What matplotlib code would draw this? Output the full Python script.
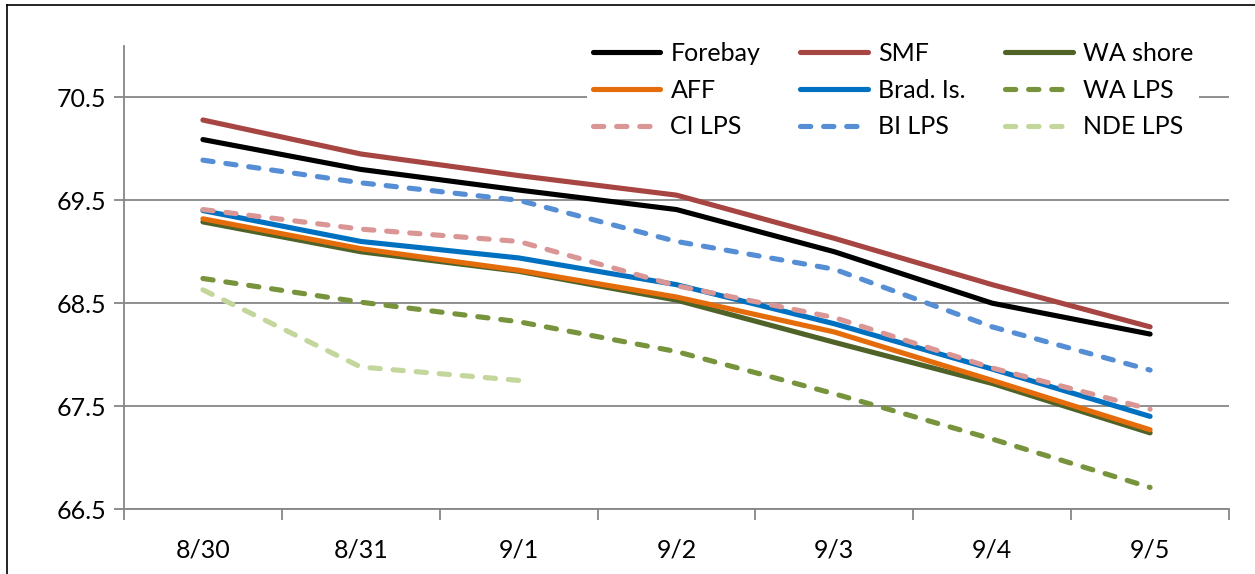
import numpy as np
import matplotlib
matplotlib.use('Agg')
import matplotlib.pyplot as plt
from matplotlib.lines import Line2D

plt.rcParams['font.family'] = ['Lato', 'DejaVu Sans']

dates = ['8/30', '8/31', '9/1', '9/2', '9/3', '9/4', '9/5']

forebay = [70.09, 69.80, 69.60, 69.41, 69.00, 68.50, 68.20]
smf = [70.28, 69.95, 69.74, 69.55, 69.13, 68.68, 68.27]
wa_shore = [69.29, 69.00, 68.81, 68.53, 68.12, 67.72, 67.24]
aff = [69.32, 69.03, 68.82, 68.56, 68.22, 67.75, 67.27]
brad = [69.40, 69.10, 68.94, 68.68, 68.30, 67.86, 67.40]
wa_lps = [68.74, 68.51, 68.32, 68.03, 67.62, 67.18, 66.71]
ci_lps = [69.41, 69.22, 69.10, 68.67, 68.36, 67.87, 67.47]
bi_lps = [69.89, 69.67, 69.50, 69.10, 68.83, 68.27, 67.85]
nde_lps = [68.63, 67.88, 67.75, np.nan, np.nan, np.nan, np.nan]

series = [
    ('Forebay', forebay, '#000000', '-'),
    ('SMF', smf, '#A64541', '-'),
    ('WA shore', wa_shore, '#4F6228', '-'),
    ('AFF', aff, '#E46C0A', '-'),
    ('Brad. Is.', brad, '#0070C0', '-'),
    ('WA LPS', wa_lps, '#77933C', '--'),
    ('CI LPS', ci_lps, '#D99694', '--'),
    ('BI LPS', bi_lps, '#558ED5', '--'),
    ('NDE LPS', nde_lps, '#C3D69B', '--'),
]

fig = plt.figure(figsize=(12.55, 5.74), dpi=100)
ax = fig.add_axes([0.0988, 0.1132, 0.8805, 0.8068])

x = np.arange(len(dates))
lines = {}
for name, vals, color, ls in series:
    ln, = ax.plot(x, vals, color=color, lw=3.7, solid_capstyle='round',
                  dash_capstyle='round', label=name)
    if ls == '--':
        ln.set_dashes((2.0, 2.5))
    lines[name] = ln

ax.set_xlim(-0.5, len(dates) - 0.5)
ax.set_ylim(66.5, 71.0)
ax.set_yticks([66.5, 67.5, 68.5, 69.5, 70.5])
ax.set_yticklabels(['66.5', '67.5', '68.5', '69.5', '70.5'])
ax.yaxis.grid(True, color='#868686', lw=1.3)
ax.set_axisbelow(True)

ax.set_xticks(x)
ax.set_xticklabels(dates)
ax.set_xticks(np.arange(-0.5, len(dates)), minor=True)
ax.tick_params(axis='x', which='major', length=0, pad=21, labelsize=18)
ax.tick_params(axis='x', which='minor', length=8, width=1.3, color='#868686')
ax.tick_params(axis='y', length=7, width=1.3, color='#868686', pad=6, labelsize=18)

for s in ['top', 'right']:
    ax.spines[s].set_visible(False)
for s in ['left', 'bottom']:
    ax.spines[s].set_color('#868686')
    ax.spines[s].set_linewidth(1.3)

order = ['Forebay', 'AFF', 'CI LPS', 'SMF', 'Brad. Is.', 'BI LPS',
         'WA shore', 'WA LPS', 'NDE LPS']
leg = ax.legend([lines[n] for n in order], order, ncol=3, loc='center',
                bbox_to_anchor=(0.7116, 0.843), bbox_transform=fig.transFigure,
                fontsize=18, frameon=True, facecolor='white', edgecolor='none',
                framealpha=1, fancybox=False, handlelength=2.7, handletextpad=0.4,
                columnspacing=1.6, labelspacing=0.55, borderpad=0.25)

# chart border (left and top edges visible)
bx = 7 / 1255
by = 1 - 5 / 574
fig.add_artist(Line2D([bx, bx], [0, by], transform=fig.transFigure, color='black', lw=1.2))
fig.add_artist(Line2D([bx, 1], [by, by], transform=fig.transFigure, color='black', lw=1.2))

fig.savefig('out.png', dpi=100)
